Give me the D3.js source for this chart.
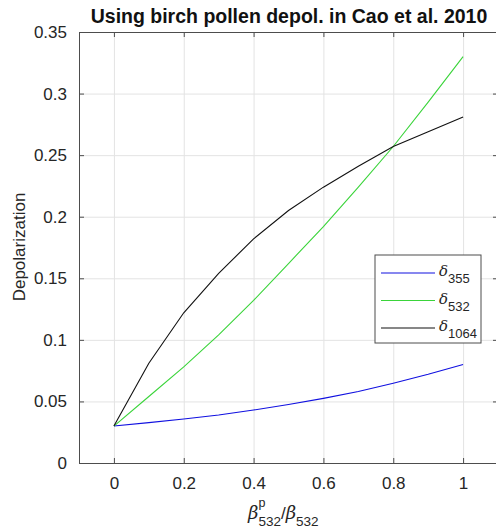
<!DOCTYPE html>
<html>
<head>
<meta charset="UTF-8">
<script src="https://d3js.org/d3.v7.min.js"></script>
<style>
  body { margin: 0; background: #fff; }
  text { font-family: Arial, "Liberation Sans", sans-serif; }
  .grid line { stroke: #e3e3e3; }
  .grid path { stroke-width: 0; }
</style>
</head>
<body>
<div id="chart"></div>
<script>
// data
const ratio = [0, 0.1, 0.2, 0.3, 0.4, 0.5, 0.6, 0.7, 0.8, 0.9, 1.0];
const delta355 = [0.030, 0.0328, 0.0357, 0.039, 0.043, 0.0475, 0.0525, 0.058, 0.0647, 0.072, 0.080];
const delta532 = [0.030, 0.054, 0.078, 0.104, 0.132, 0.162, 0.192, 0.224, 0.257, 0.293, 0.330];
const delta1064 = [0.030, 0.081, 0.122, 0.154, 0.182, 0.205, 0.224, 0.241, 0.257, 0.269, 0.281];
const xTicks = [0, 0.2, 0.4, 0.6, 0.8, 1];
const yTicks = [0, 0.05, 0.1, 0.15, 0.2, 0.25, 0.3, 0.35];
const series = [
  {name: "355", values: delta355, color: "#1010e0"},
  {name: "532", values: delta532, color: "#3ad43a"},
  {name: "1064", values: delta1064, color: "#111"}
];

const W = 496, H = 531;
const margin = {top: 32, right: -2, bottom: 68, left: 79};
const width = W - margin.left - margin.right;
const height = H - margin.top - margin.bottom;

const svg = d3.select("#chart").append("svg")
  .attr("width", W).attr("height", H);
const g = svg.append("g").attr("transform", `translate(${margin.left},${margin.top})`);

const x = d3.scaleLinear().domain([-0.1, 1.1]).range([0, width]);
const y = d3.scaleLinear().domain([0, 0.35]).range([height, 0]);

// grid
g.append("g").attr("class", "grid")
  .attr("transform", `translate(0,${height})`)
  .call(d3.axisBottom(x).tickValues(xTicks).tickSize(-height).tickFormat(""));
g.append("g").attr("class", "grid")
  .call(d3.axisLeft(y).tickValues(yTicks).tickSize(-width).tickFormat(""));

// axes
const axColor = "#4d4d4d";
function styleAxis(sel) {
  sel.select(".domain").attr("stroke", axColor);
  sel.selectAll(".tick line").attr("stroke", axColor);
  sel.selectAll(".tick text").attr("fill", "#262626").style("font-size", "17px");
}
g.append("g").attr("transform", `translate(0,${height})`)
  .call(d3.axisBottom(x).tickValues(xTicks).tickSizeInner(-5).tickSizeOuter(0).tickPadding(14).tickFormat(d3.format("")))
  .call(styleAxis);
g.append("g")
  .call(d3.axisLeft(y).tickValues(yTicks).tickSizeInner(-5).tickSizeOuter(0).tickPadding(12).tickFormat(d3.format("")))
  .call(styleAxis);
g.append("g")
  .call(d3.axisTop(x).tickValues(xTicks).tickSizeInner(-5).tickSizeOuter(0).tickFormat(""))
  .call(styleAxis);
g.append("g").attr("transform", `translate(${width},0)`)
  .call(d3.axisRight(y).tickValues(yTicks).tickSizeInner(-5).tickSizeOuter(0).tickFormat(""))
  .call(styleAxis);

// lines
const line = d3.line().x((d, i) => x(ratio[i])).y(d => y(d));
series.forEach(s => {
  g.append("path").datum(s.values)
    .attr("fill", "none")
    .attr("stroke", s.color)
    .attr("stroke-width", 1.1)
    .attr("d", line);
});

// title
svg.append("text")
  .attr("x", 289).attr("y", 23)
  .attr("text-anchor", "middle")
  .style("font-size", "19.5px").style("font-weight", "bold")
  .attr("fill", "#111")
  .text("Using birch pollen depol. in Cao et al. 2010");

// y label
svg.append("text")
  .attr("transform", "translate(25,247) rotate(-90)")
  .attr("text-anchor", "middle")
  .style("font-size", "17px").attr("fill", "#262626")
  .text("Depolarization");

// x label: beta^p_532 / beta_532, pieces as separate texts
const xlab = svg.append("g").attr("fill", "#262626");
function piece(px, py, txt, size, italic) {
  const t = xlab.append("text").attr("x", px).attr("y", py)
    .style("font-size", size + "px").text(txt);
  if (italic) t.style("font-style", "italic").style("font-family", "'DejaVu Serif', serif");
  return t.node().getComputedTextLength();
}
let cx = 248;
cx += piece(cx, 519, "β", 18, true);
piece(cx, 507, "p", 12.5, false);
cx += piece(cx, 526, "532", 13.5, false);
cx += piece(cx, 519, "/", 17, false);
cx += piece(cx, 519, "β", 18, true);
piece(cx, 526, "532", 13.5, false);

// legend
const lg = svg.append("g").attr("transform", "translate(375,255)");
lg.append("rect").attr("width", 106).attr("height", 88)
  .attr("fill", "#fff").attr("stroke", "#4d4d4d").attr("stroke-width", 1);
series.forEach((s, i) => {
  const yy = 18 + i * 27.5;
  lg.append("line").attr("x1", 6).attr("x2", 60).attr("y1", yy).attr("y2", yy)
    .attr("stroke", s.color).attr("stroke-width", 1.1);
  const t = lg.append("text").attr("x", 64).attr("y", yy + 3)
    .style("font-size", "15px").attr("fill", "#262626");
  t.append("tspan").style("font-style", "italic").style("font-family", "'DejaVu Serif', serif").text("δ");
  t.append("tspan").attr("dy", 7).style("font-size", "13px").text(s.name);
});
</script>
</body>
</html>
